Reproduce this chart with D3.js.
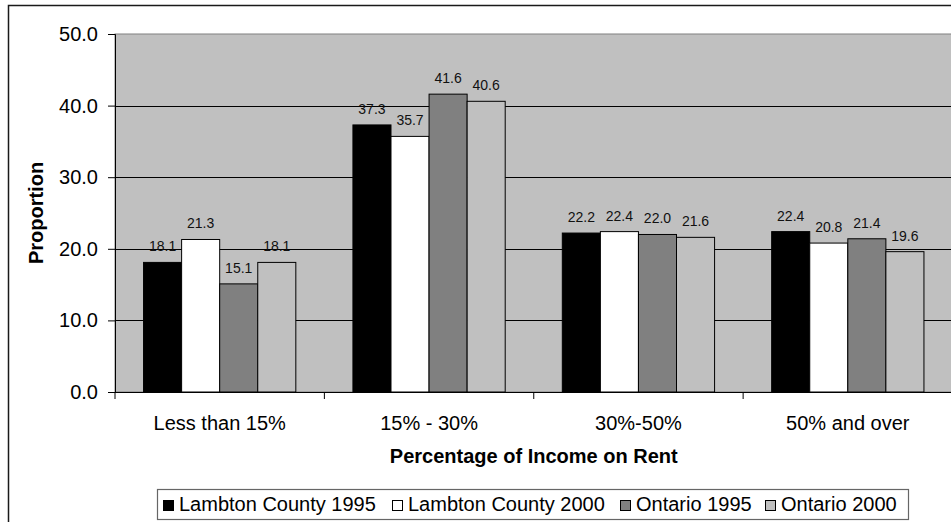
<!DOCTYPE html>
<html><head><meta charset="utf-8">
<script src="https://cdn.jsdelivr.net/npm/d3@7"></script>
<style>html,body{margin:0;padding:0;background:#fff;}svg{display:block;}</style>
</head><body>
<svg id="c" width="951" height="522"></svg>
<script>
const categories = ["Less than 15%", "15% - 30%", "30%-50%", "50% and over"];
const seriesNames = ["Lambton County 1995", "Lambton County 2000", "Ontario 1995", "Ontario 2000"];
const lambton1995 = [18.1, 37.3, 22.2, 22.4];
const lambton2000 = [21.3, 35.7, 22.4, 20.8];
const ontario1995 = [15.1, 41.6, 22.0, 21.4];
const ontario2000 = [18.1, 40.6, 21.6, 19.6];
const yTicks = [0, 10, 20, 30, 40, 50];
const seriesColors = ["#000000", "#ffffff", "#808080", "#c0c0c0"];
const seriesValues = [lambton1995, lambton2000, ontario1995, ontario2000];

const svg = d3.select("#c");
const font = "'Liberation Sans', Arial, sans-serif";

// outer chart border
svg.append("rect").attr("x", 8.5).attr("y", 5.5).attr("width", 1000).attr("height", 600)
  .attr("fill", "#fff").attr("stroke", "#1a1a1a").attr("stroke-width", 1.5);

const L = 115, R = 952.5, T = 34, B = 392;
const y = d3.scaleLinear().domain([0, 50]).range([B, T]);
const x0 = d3.scaleBand().domain(categories).range([L, R]).padding(0);
const bw = x0.bandwidth();
const gapHalf = bw * 0.75 / 5.5;
const x1 = d3.scaleBand().domain(seriesNames).range([gapHalf, bw - gapHalf]).padding(0);

// plot area
svg.append("rect").attr("x", L).attr("y", T).attr("width", R - L).attr("height", B - T)
  .attr("fill", "#c0c0c0").attr("stroke", "#808080").attr("stroke-width", 1);

// gridlines
svg.append("g").selectAll("line").data(yTicks.filter(d => d > 0 && d < 50)).join("line")
  .attr("x1", L).attr("x2", R).attr("y1", d => Math.round(y(d)) + 0.5).attr("y2", d => Math.round(y(d)) + 0.5)
  .attr("stroke", "#000").attr("stroke-width", 1);

// bars
const groups = svg.append("g").selectAll("g").data(categories).join("g")
  .attr("transform", d => `translate(${x0(d)},0)`);
groups.selectAll("rect").data((c, i) => seriesNames.map((s, k) => ({ s, k, v: seriesValues[k][i] })))
  .join("rect")
  .attr("x", d => x1(d.s)).attr("width", x1.bandwidth())
  .attr("y", d => y(d.v)).attr("height", d => B - y(d.v))
  .attr("fill", d => seriesColors[d.k]).attr("stroke", "#000").attr("stroke-width", 1);
groups.selectAll("text").data((c, i) => seriesNames.map((s, k) => ({ s, k, v: seriesValues[k][i] })))
  .join("text")
  .attr("x", d => x1(d.s) + x1.bandwidth() / 2).attr("y", d => y(d.v) - 11)
  .attr("text-anchor", "middle").attr("font-family", font).attr("font-size", 14).attr("fill", "#111")
  .text(d => d.v.toFixed(1));

// y axis
const yAxis = d3.axisLeft(y).tickValues(yTicks).tickFormat(d3.format(".1f")).tickSize(7).tickPadding(10);
const gy = svg.append("g").attr("transform", `translate(${L},0)`).call(yAxis);
gy.select(".domain").attr("stroke", "#000");
gy.selectAll(".tick line").attr("stroke", "#000");
gy.selectAll(".tick text").attr("font-family", font).attr("font-size", 20).attr("fill", "#000");

// x axis
const xAxis = d3.axisBottom(x0).tickSize(0).tickPadding(24);
const gx = svg.append("g").attr("transform", `translate(0,${B})`).call(xAxis);
gx.select(".domain").attr("stroke", "#000").attr("d", `M${L},0.5H${R}`);
gx.selectAll(".tick text").attr("font-family", font).attr("font-size", 20).attr("fill", "#000");
gx.append("g").selectAll("line").data(categories).join("line")
  .attr("x1", d => x0(d)).attr("x2", d => x0(d)).attr("y1", 0).attr("y2", 7).attr("stroke", "#000");
gx.append("line").attr("x1", R).attr("x2", R).attr("y1", 0).attr("y2", 7).attr("stroke", "#000");

// axis titles
svg.append("text").attr("x", (L + R) / 2).attr("y", 463).attr("text-anchor", "middle")
  .attr("font-family", font).attr("font-weight", "bold").attr("font-size", 20).text("Percentage of Income on Rent");
svg.append("text").attr("transform", `translate(43,${(T + B) / 2}) rotate(-90)`).attr("text-anchor", "middle")
  .attr("font-family", font).attr("font-weight", "bold").attr("font-size", 20).text("Proportion");

// legend
const lg = svg.append("g");
lg.append("rect").attr("x", 157.5).attr("y", 489.5).attr("width", 751).attr("height", 30)
  .attr("fill", "#fff").attr("stroke", "#666").attr("stroke-width", 1.2);
const legendX = [163, 392, 620, 765];
seriesNames.forEach((s, k) => {
  lg.append("rect").attr("x", legendX[k] + 0.5).attr("y", 500.5).attr("width", 10).attr("height", 10)
    .attr("fill", seriesColors[k]).attr("stroke", "#000");
  lg.append("text").attr("x", legendX[k] + 16).attr("y", 511).attr("font-family", font).attr("font-size", 20)
    .attr("fill", "#000").text(s);
});
</script>
</body></html>
